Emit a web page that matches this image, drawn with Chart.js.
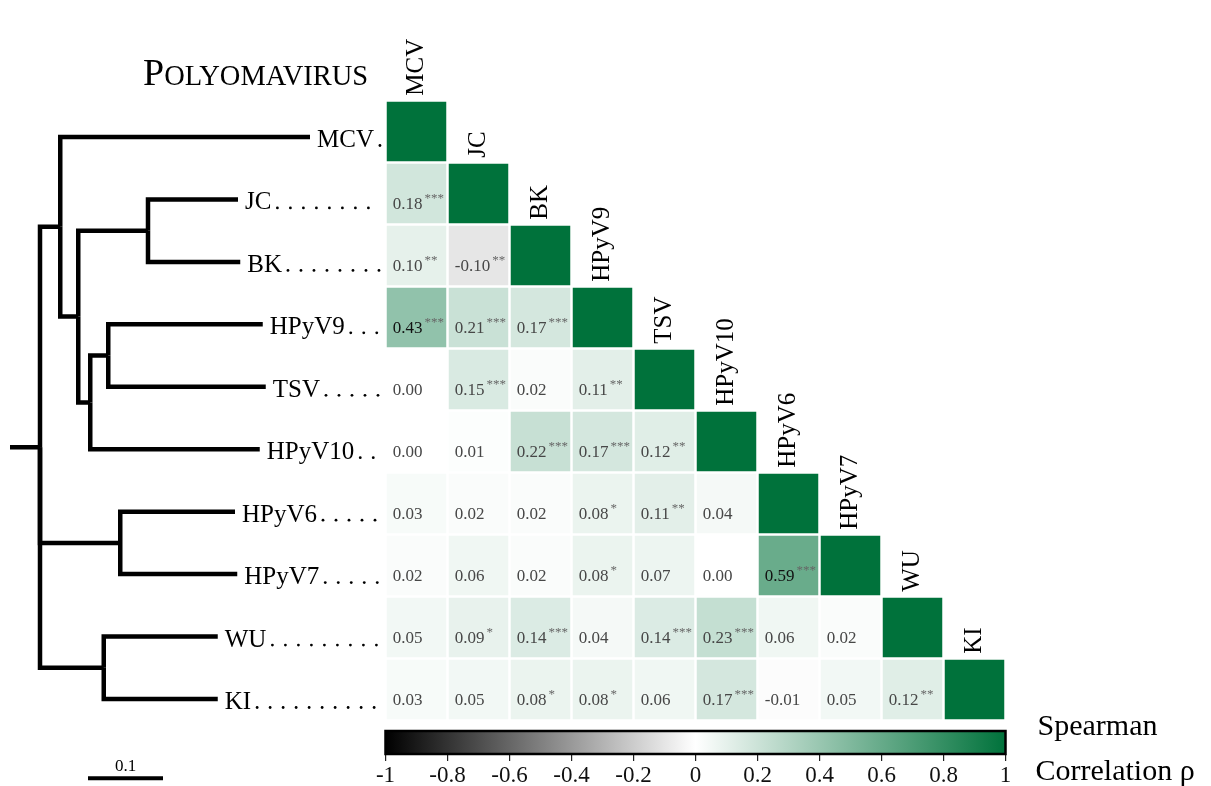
<!DOCTYPE html>
<html>
<head>
<meta charset="utf-8">
<script src="https://cdn.jsdelivr.net/npm/chart.js@4.4.1/dist/chart.umd.min.js"></script>
<style>
  html, body { margin: 0; padding: 0; background: #fff; }
  #wrap { position: relative; width: 1211px; height: 786px; overflow: hidden; }
  #wrap canvas { position: absolute; left: 0; top: 0; }
</style>
</head>
<body>
<div id="wrap">
  <canvas id="treeChart" width="1211" height="786"></canvas>
  <canvas id="heatChart" width="1211" height="786"></canvas>
  <canvas id="scaleChart" width="1211" height="786"></canvas>
</div>
<script>
// virus order (rows top->bottom, columns left->right)
const viruses = ['MCV', 'JC', 'BK', 'HPyV9', 'TSV', 'HPyV10', 'HPyV6', 'HPyV7', 'WU', 'KI'];

// Spearman rho, lower triangle, one array per row
const rhoMCV = [];
const rhoJC = [0.18];
const rhoBK = [0.10, -0.10];
const rhoHPyV9 = [0.43, 0.21, 0.17];
const rhoTSV = [0.00, 0.15, 0.02, 0.11];
const rhoHPyV10 = [0.00, 0.01, 0.22, 0.17, 0.12];
const rhoHPyV6 = [0.03, 0.02, 0.02, 0.08, 0.11, 0.04];
const rhoHPyV7 = [0.02, 0.06, 0.02, 0.08, 0.07, 0.00, 0.59];
const rhoWU = [0.05, 0.09, 0.14, 0.04, 0.14, 0.23, 0.06, 0.02];
const rhoKI = [0.03, 0.05, 0.08, 0.08, 0.06, 0.17, -0.01, 0.05, 0.12];

// significance stars per cell
const sigMCV = [];
const sigJC = [3];
const sigBK = [2, 2];
const sigHPyV9 = [3, 3, 3];
const sigTSV = [0, 3, 0, 2];
const sigHPyV10 = [0, 0, 3, 3, 2];
const sigHPyV6 = [0, 0, 0, 1, 2, 0];
const sigHPyV7 = [0, 0, 0, 1, 0, 0, 3];
const sigWU = [0, 1, 3, 0, 3, 3, 0, 0];
const sigKI = [0, 0, 1, 1, 0, 3, 0, 0, 2];

// dendrogram: node, parent, distance from root
const treeNodes   = ['root', 'nA', 'MCV', 'nB', 'nJB', 'JC', 'BK', 'nC', 'nHT', 'HPyV9', 'TSV', 'HPyV10', 'nH67', 'HPyV6', 'HPyV7', 'nWK', 'WU', 'KI'];
const treeParents = [null, 'root', 'nA', 'nA', 'nB', 'nJB', 'nJB', 'nB', 'nC', 'nHT', 'nHT', 'nC', 'root', 'nH67', 'nH67', 'root', 'nWK', 'nWK'];
const treeDepth   = [0, 0.027, 0.360, 0.051, 0.144, 0.264, 0.267, 0.067, 0.091, 0.297, 0.301, 0.293, 0.107, 0.260, 0.263, 0.085, 0.237, 0.237];
const rootStub = 0.04;
const scaleBarStart = 0.064;
const scaleBarLength = 0.1;

// colour scale
const scaleStops = [-1, 0, 1];
const scaleColors = [[0, 0, 0], [255, 255, 255], [0, 114, 59]];
const scaleTicks = [-1, -0.8, -0.6, -0.4, -0.2, 0, 0.2, 0.4, 0.6, 0.8, 1];

const rhoRows = [rhoMCV, rhoJC, rhoBK, rhoHPyV9, rhoTSV, rhoHPyV10, rhoHPyV6, rhoHPyV7, rhoWU, rhoKI];
const sigRows = [sigMCV, sigJC, sigBK, sigHPyV9, sigTSV, sigHPyV10, sigHPyV6, sigHPyV7, sigWU, sigKI];

const serif = "'Liberation Serif', 'DejaVu Serif', serif";

function rhoColor(v) {
  let k = v < scaleStops[1] ? 0 : 1;
  const t = (v - scaleStops[k]) / (scaleStops[k + 1] - scaleStops[k]);
  const a = scaleColors[k], b = scaleColors[k + 1];
  const c = a.map((ch, i) => Math.round(ch + (b[i] - ch) * t));
  return `rgb(${c[0]},${c[1]},${c[2]})`;
}

// ---------- dendrogram ----------
function nodeY(k) {
  const name = treeNodes[k];
  const leaf = viruses.indexOf(name);
  if (leaf >= 0) return leaf;
  const kids = [];
  treeParents.forEach((p, c) => { if (p === name) kids.push(nodeY(c)); });
  return (Math.min(...kids) + Math.max(...kids)) / 2;
}
const treeY = treeNodes.map((n, k) => nodeY(k));

const treeSets = [{ data: [{ x: -rootStub, y: treeY[0] }, { x: 0, y: treeY[0] }] }];
treeNodes.forEach((name, k) => {
  if (!treeParents[k]) return;
  const p = treeNodes.indexOf(treeParents[k]);
  treeSets.push({
    data: [
      { x: treeDepth[p], y: treeY[p] },
      { x: treeDepth[p], y: treeY[k] },
      { x: treeDepth[k], y: treeY[k] }
    ]
  });
});
treeSets.forEach(ds => Object.assign(ds, {
  showLine: true, borderColor: '#000', borderWidth: 4.5, pointRadius: 0,
  borderCapStyle: 'butt', borderJoinStyle: 'miter', tension: 0, clip: false
}));

const treePlugin = {
  id: 'treeLabels',
  afterDatasetsDraw(chart) {
    const { ctx, scales: { x, y }, chartArea } = chart;
    ctx.save();
    ctx.fillStyle = '#000';
    ctx.strokeStyle = '#000';
    ctx.textBaseline = 'alphabetic';

    // leaf labels with dotted leaders
    ctx.font = `25px ${serif}`;
    viruses.forEach((name, i) => {
      const k = treeNodes.indexOf(name);
      const px = x.getPixelForValue(treeDepth[k]) + 7;
      const py = y.getPixelForValue(i) + 10;
      ctx.fillText(name, px, py);
      let dx = px + ctx.measureText(name).width + 6;
      while (dx <= 380) {
        ctx.beginPath();
        ctx.arc(dx, py - 1.5, 1.4, 0, Math.PI * 2);
        ctx.fill();
        dx += 13;
      }
    });

    // title in small caps
    ctx.font = `38px ${serif}`;
    ctx.fillText('P', 143, 85);
    const w = ctx.measureText('P').width;
    ctx.font = `28.5px ${serif}`;
    ctx.fillText('OLYOMAVIRUS', 143 + w, 85);

    // scale bar
    const by = chartArea.bottom + 48;
    const x0 = x.getPixelForValue(scaleBarStart);
    const x1 = x.getPixelForValue(scaleBarStart + scaleBarLength);
    ctx.lineWidth = 4;
    ctx.beginPath();
    ctx.moveTo(x0, by);
    ctx.lineTo(x1, by);
    ctx.stroke();
    ctx.font = `17px ${serif}`;
    ctx.textAlign = 'center';
    ctx.fillText(String(scaleBarLength), (x0 + x1) / 2, by - 7);
    ctx.restore();
  }
};

new Chart(document.getElementById('treeChart'), {
  type: 'scatter',
  data: { datasets: treeSets },
  options: {
    responsive: false, animation: false, events: [],
    layout: { padding: { left: 10, right: 841, top: 105.8, bottom: 55.8 } },
    plugins: { legend: { display: false }, tooltip: { enabled: false } },
    scales: {
      x: { type: 'linear', display: false, min: -rootStub, max: 0.44 },
      y: { type: 'linear', display: false, min: -0.5, max: 9.5, reverse: true }
    }
  },
  plugins: [treePlugin]
});

// ---------- heatmap ----------
const cells = [];
rhoRows.forEach((row, i) => {
  row.forEach((v, j) => cells.push({ x: j, y: i, v: v, s: sigRows[i][j] }));
  cells.push({ x: i, y: i, v: 1, s: 0, diag: true });
});

function cellRadius(chart) {
  const xs = chart.scales.x;
  if (!xs) return 42;
  const pitch = Math.abs(xs.getPixelForValue(1) - xs.getPixelForValue(0));
  return (pitch - 2.5) / Math.SQRT2;
}

const heatPlugin = {
  id: 'heatText',
  afterDatasetsDraw(chart) {
    const { ctx, scales: { x, y } } = chart;
    const pitch = Math.abs(x.getPixelForValue(1) - x.getPixelForValue(0));
    const half = (pitch - 2.5) / 2;
    ctx.save();

    // column headers
    ctx.font = `25px ${serif}`;
    ctx.fillStyle = '#000';
    ctx.textAlign = 'left';
    ctx.textBaseline = 'alphabetic';
    viruses.forEach((name, j) => {
      ctx.save();
      ctx.translate(x.getPixelForValue(j) + 6, y.getPixelForValue(j) - half - 6);
      ctx.rotate(-Math.PI / 2);
      ctx.fillText(name, 0, 0);
      ctx.restore();
    });

    // cell values
    ctx.textBaseline = 'alphabetic';
    cells.forEach(c => {
      if (c.diag) return;
      const cx = x.getPixelForValue(c.x);
      const cy = y.getPixelForValue(c.y);
      const label = c.v.toFixed(2);
      const left = cx - half + 6;
      ctx.font = `17px ${serif}`;
      ctx.fillStyle = Math.abs(c.v) >= 0.4 ? '#111' : '#474747';
      ctx.fillText(label, left, cy + 15);
      if (c.s > 0) {
        const lw = ctx.measureText(label).width;
        ctx.font = `13px ${serif}`;
        ctx.fillStyle = '#666';
        ctx.fillText('*'.repeat(c.s), left + lw + 2, cy + 8);
      }
    });
    ctx.restore();
  }
};

new Chart(document.getElementById('heatChart'), {
  type: 'scatter',
  data: {
    datasets: [{
      data: cells,
      pointStyle: 'rect',
      pointRadius: ctx => cellRadius(ctx.chart),
      backgroundColor: ctx => (ctx.raw ? rhoColor(ctx.raw.v) : '#fff'),
      borderWidth: 0,
      clip: false
    }]
  },
  options: {
    responsive: false, animation: false, events: [],
    layout: { padding: { left: 385.5, right: 205.5, top: 100.5, bottom: 65.5 } },
    plugins: { legend: { display: false }, tooltip: { enabled: false } },
    scales: {
      x: { type: 'linear', display: false, min: -0.5, max: 9.5 },
      y: { type: 'linear', display: false, min: -0.5, max: 9.5, reverse: true }
    }
  },
  plugins: [heatPlugin]
});

// ---------- colour bar ----------
const scalePlugin = {
  id: 'colorBar',
  beforeDatasetsDraw(chart) {
    const { ctx, chartArea: a, scales: { x } } = chart;
    ctx.save();
    const g = ctx.createLinearGradient(a.left, 0, a.right, 0);
    scaleStops.forEach((s, i) => {
      const c = scaleColors[i];
      g.addColorStop((x.getPixelForValue(s) - a.left) / (a.right - a.left), `rgb(${c[0]},${c[1]},${c[2]})`);
    });
    ctx.fillStyle = g;
    ctx.fillRect(a.left, a.top, a.right - a.left, a.bottom - a.top);
    ctx.lineWidth = 2.5;
    ctx.strokeStyle = '#000';
    ctx.strokeRect(a.left, a.top, a.right - a.left, a.bottom - a.top);

    ctx.fillStyle = '#000';
    ctx.font = `30px ${serif}`;
    ctx.textBaseline = 'alphabetic';
    ctx.fillText('Spearman', a.right + 32, a.top + 4);
    ctx.fillText('Correlation \u03c1', a.right + 30, a.bottom + 26);
    ctx.restore();
  }
};

new Chart(document.getElementById('scaleChart'), {
  type: 'scatter',
  data: { datasets: [] },
  options: {
    responsive: false, animation: false, events: [],
    layout: { padding: { left: 385.5, right: 205.5, top: 731, bottom: 0 } },
    plugins: { legend: { display: false }, tooltip: { enabled: false } },
    scales: {
      x: {
        type: 'linear', min: -1, max: 1, position: 'bottom',
        afterFit(s) { s.height = 32; },
        afterBuildTicks(s) { s.ticks = scaleTicks.map(v => ({ value: v })); },
        ticks: {
          autoSkip: false, maxRotation: 0, padding: 1, color: '#111',
          font: { family: serif, size: 23 },
          callback: v => (Number.isInteger(v) ? String(v) : v.toFixed(1))
        },
        grid: { drawOnChartArea: false, drawTicks: true, tickLength: 7, color: '#222', lineWidth: 1.2 },
        border: { display: false }
      },
      y: { type: 'linear', display: false, min: 0, max: 1 }
    }
  },
  plugins: [scalePlugin]
});
</script>
</body>
</html>
